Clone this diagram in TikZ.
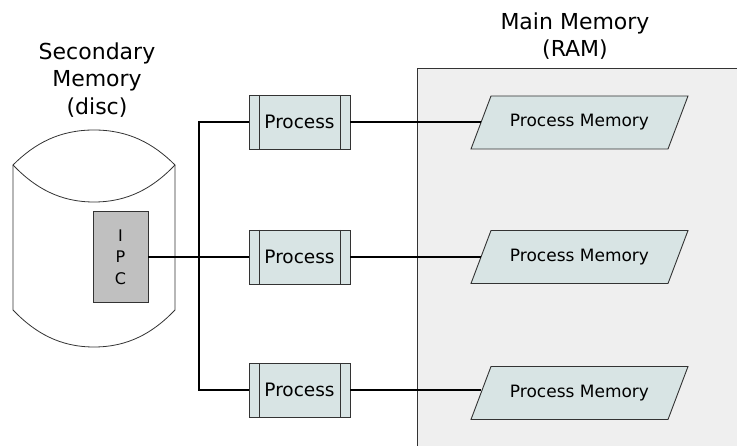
\documentclass[tikz,border=0pt]{standalone}
\usepackage{fontspec}
\setmainfont{DejaVu Sans}
\definecolor{procfill}{HTML}{D8E4E4}
\definecolor{ramfill}{HTML}{EFEFEF}
\definecolor{ipcfill}{HTML}{C0C0C0}
\definecolor{edge}{HTML}{333333}
\begin{document}
\begin{tikzpicture}[x=1pt,y=-1pt,
  procbox/.style={draw=edge,line width=0.9pt,fill=procfill,minimum width=101pt,minimum height=54pt,inner sep=0pt,
    font=\fontsize{18.5}{22}\selectfont,
    path picture={\draw[edge,line width=0.9pt] ([xshift=10pt]path picture bounding box.north west) -- ([xshift=10pt]path picture bounding box.south west);
                  \draw[edge,line width=0.9pt] ([xshift=-10pt]path picture bounding box.north east) -- ([xshift=-10pt]path picture bounding box.south east);}},
  pmem/.style={minimum width=197pt,minimum height=53pt,inner sep=0pt,font=\fontsize{17}{20}\selectfont},
  pmemshape/.style={draw=edge,line width=0.9pt,fill=procfill},
  ipcbox/.style={draw=edge,line width=0.9pt,fill=ipcfill,minimum width=55pt,minimum height=91pt,inner sep=0pt,align=center,
    font=\fontsize{16}{21.5}\selectfont},
  title/.style={align=center,font=\fontsize{22}{27.5}\selectfont,inner sep=0pt},
  wire/.style={line width=2.2pt,black}]
\useasboundingbox (0,0) rectangle (737,446);
% main memory area
\draw[edge,line width=0.9pt,fill=ramfill] (417,68) rectangle (745,450);
% disc
\draw[edge,line width=0.8pt,fill=white]
  (13,165) .. controls (35,143) and (60,130) .. (94,130) .. controls (128,130) and (153,143) .. (175,165)
  -- (175,310) .. controls (153,333) and (128,347) .. (94,347) .. controls (60,347) and (35,333) .. (13,310) -- cycle;
\draw[edge,line width=0.8pt] (13,165) .. controls (35,188) and (60,202) .. (94,202) .. controls (128,202) and (153,188) .. (175,165);
% labels
\node[title] (sec) at (97,80) {Secondary\\Memory\\(disc)};
\node[title] (ram) at (575,36) {Main Memory\\(RAM)};
% process memory parallelograms
\foreach \y in {122.5,257,393}{
  \draw[pmemshape] (491,\y-26.5) -- (688,\y-26.5) -- (668,\y+26.5) -- (471,\y+26.5) -- cycle;
}
% nodes
\node[ipcbox] (ipc) at (120.5,257) {I\\P\\C};
\node[procbox] (p1) at (299.5,122) {Process};
\node[procbox] (p2) at (299.5,257) {Process};
\node[procbox] (p3) at (299.5,390) {Process};
\node[pmem] (m1) at (579.5,122.5) {Process Memory};
\node[pmem] (m2) at (579.5,257) {Process Memory};
\node[pmem] (m3) at (579.5,393) {Process Memory};
\coordinate (bt) at (199,122);
\coordinate (bb) at (199,390);
% wires
\draw[wire] (p1.west) -- (bt) -- (bb) -- (p3.west);
\draw[wire] (ipc.east) -- (p2.west);
\draw[wire] (p1.east) -- (p1.east -| m1.west);
\draw[wire] (p2.east) -- (p2.east -| m2.west);
\draw[wire] (p3.east) -- (p3.east -| m3.west);
\end{tikzpicture}
\end{document}
